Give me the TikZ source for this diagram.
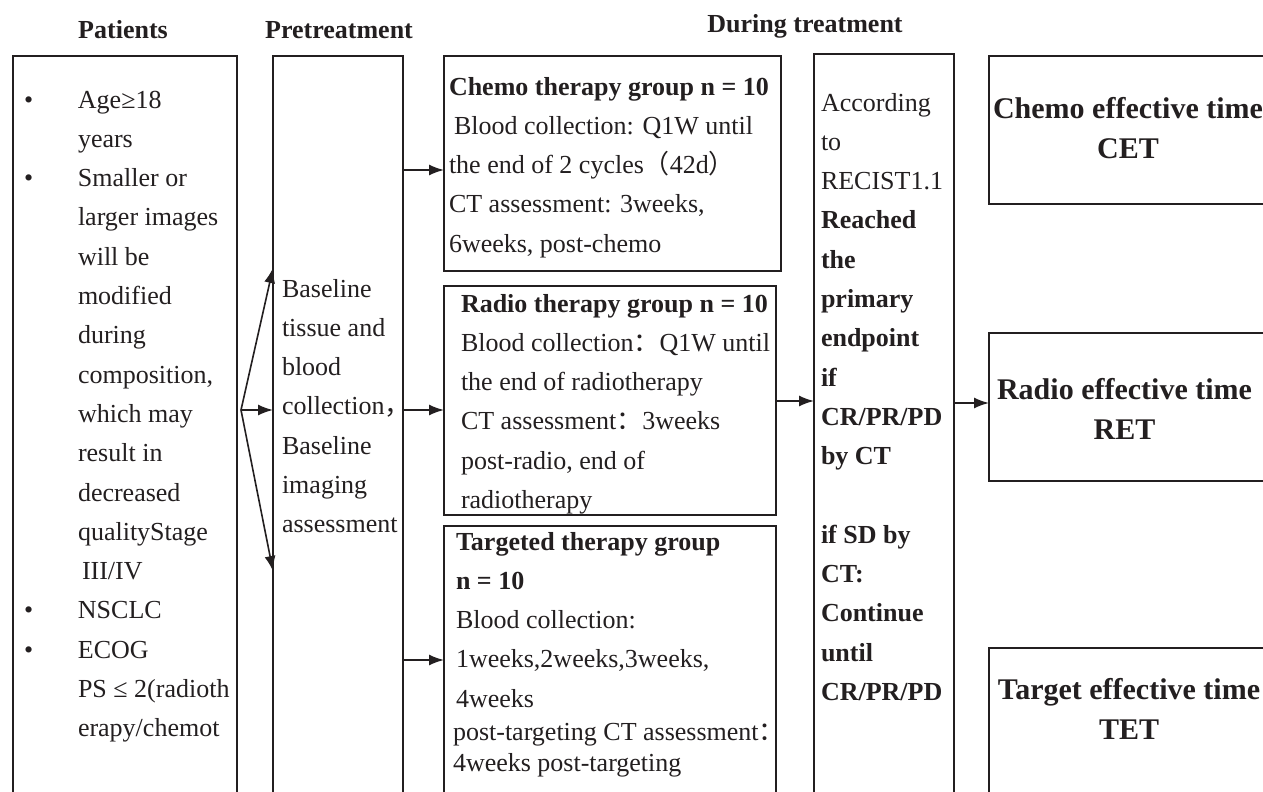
\documentclass[tikz,border=0pt]{standalone}
\usepackage{fontspec}
\setmainfont{Liberation Serif}
\newfontfamily\cjk{Noto Sans CJK SC}
\usetikzlibrary{arrows.meta}
\definecolor{ink}{HTML}{231F20}
\tikzset{
  box/.style={draw=ink, line width=1.8pt, inner sep=0pt, outer sep=0pt, anchor=north west},
  txt/.style={inner sep=0pt, outer sep=0pt, anchor=base west, text=ink, font=\fontsize{26}{39.3}\selectfont},
  hdr/.style={inner sep=0pt, anchor=base, text=ink, font=\fontsize{26}{39.3}\selectfont\bfseries},
  big/.style={inner sep=0pt, anchor=base, text=ink, font=\fontsize{30}{40}\selectfont\bfseries},
  arr/.style={draw=ink, line width=1.6pt, -{Latex[length=15pt,width=11pt]}}
}
\begin{document}
\begin{tikzpicture}[x=1pt,y=-1pt]
\clip (0,0) rectangle (1263,792);
\fill[white] (0,0) rectangle (1263,792);

% headers
\node[hdr] (h1) at (123,38) {Patients};
\node[hdr] (h2) at (339,38) {Pretreatment};
\node[hdr] (h3) at (805,33) {During treatment};

% boxes
\node[box, minimum width=224pt, minimum height=760pt] (pat) at (13,56) {};
\node[box, minimum width=130pt, minimum height=760pt] (pre) at (273,56) {};
\node[box, minimum width=337pt, minimum height=215pt] (chemo) at (444,56) {};
\node[box, minimum width=332pt, minimum height=229pt] (radio) at (444,286) {};
\node[box, minimum width=332pt, minimum height=300pt] (targ) at (444,526) {};
\node[box, minimum width=140pt, minimum height=760pt] (during) at (814,54) {};
\node[box, minimum width=300pt, minimum height=148pt] (cet) at (989,56) {};
\node[box, minimum width=300pt, minimum height=148pt] (ret) at (989,333) {};
\node[box, minimum width=300pt, minimum height=200pt] (tet) at (989,648) {};

% texts
\node[txt] (tpat) at (24,108) {\begin{tabular}[t]{@{}p{54pt}@{}l@{}}
•&Age≥18\\
 &years\\
•&Smaller or\\
 &larger images\\
 &will be\\
 &modified\\
 &during\\
 &composition,\\
 &which may\\
 &result in\\
 &decreased\\
 &qualityStage\\
 &\hspace{4pt}III/IV\\
•&NSCLC\\
•&ECOG\\
 &PS ≤ 2(radioth\\
 &erapy/chemot
\end{tabular}};

\node[txt] (tpre) at (282,297) {\begin{tabular}[t]{@{}l@{}}
Baseline\\
tissue and\\
blood\\
collection{\cjk ，}\\
Baseline\\
imaging\\
assessment
\end{tabular}};

\node[txt] (tchemo) at (449,95) {\begin{tabular}[t]{@{}l@{}}
\textbf{Chemo therapy group n = 10}\\
\hspace{5pt}Blood collection: Q1W until\\
the end of 2 cycles{\cjk （}42d{\cjk ）}\\
CT assessment: 3weeks,\\
6weeks, post-chemo
\end{tabular}};

\node[txt] (tradio) at (461,312) {\begin{tabular}[t]{@{}l@{}}
\textbf{Radio therapy group n = 10}\\
Blood collection{\cjk ：}Q1W until\\
the end of radiotherapy\\
CT assessment{\cjk ：}3weeks\\
post-radio, end of\\
radiotherapy
\end{tabular}};

\node[txt] (ttarg) at (456,550) {\begin{tabular}[t]{@{}l@{}}
\textbf{Targeted therapy group}\\
\textbf{n = 10}\\
Blood collection:\\
1weeks,2weeks,3weeks,\\
4weeks\\[-6pt]
\hspace{-3pt}post-targeting CT assessment{\cjk ：}\\[-8pt]
\hspace{-3pt}4weeks post-targeting
\end{tabular}};

\node[txt] (tdur) at (821,111) {\begin{tabular}[t]{@{}l@{}}
According\\
to\\
RECIST1.1\\
\textbf{Reached}\\
\textbf{the}\\
\textbf{primary}\\
\textbf{endpoint}\\
\textbf{if}\\
\textbf{CR/PR/PD}\\
\textbf{by CT}\\
\\
\textbf{if SD by}\\
\textbf{CT:}\\
\textbf{Continue}\\
\textbf{until}\\
\textbf{CR/PR/PD}
\end{tabular}};

\node[big] (tcet) at (1128,118) {\begin{tabular}[t]{@{}c@{}}Chemo effective time\\CET\end{tabular}};
\node[big] (tret) at (1124.5,399) {\begin{tabular}[t]{@{}c@{}}Radio effective time\\RET\end{tabular}};
\node[big] (ttet) at (1129,699) {\begin{tabular}[t]{@{}c@{}}Target effective time\\TET\end{tabular}};

% helper levels
\coordinate (fork) at (241,410);
\coordinate (yu) at (0,268);
\coordinate (ym) at (0,410);
\coordinate (yd) at (0,571);
\coordinate (yc) at (0,170);
\coordinate (yt) at (0,660);
\coordinate (yr) at (0,401);
\coordinate (yr2) at (0,403);

% connectors
\draw[arr] (fork) -- (pre.west |- yu);
\draw[arr] (fork) -- (pre.west |- ym);
\draw[arr] (fork) -- (pre.west |- yd);
\draw[arr] (pre.east |- yc) -- (chemo.west |- yc);
\draw[arr] (pre.east |- ym) -- (radio.west |- ym);
\draw[arr] (pre.east |- yt) -- (targ.west |- yt);
\draw[arr] (radio.east |- yr) -- (during.west |- yr);
\draw[arr] (during.east |- yr2) -- (ret.west |- yr2);
\end{tikzpicture}
\end{document}
